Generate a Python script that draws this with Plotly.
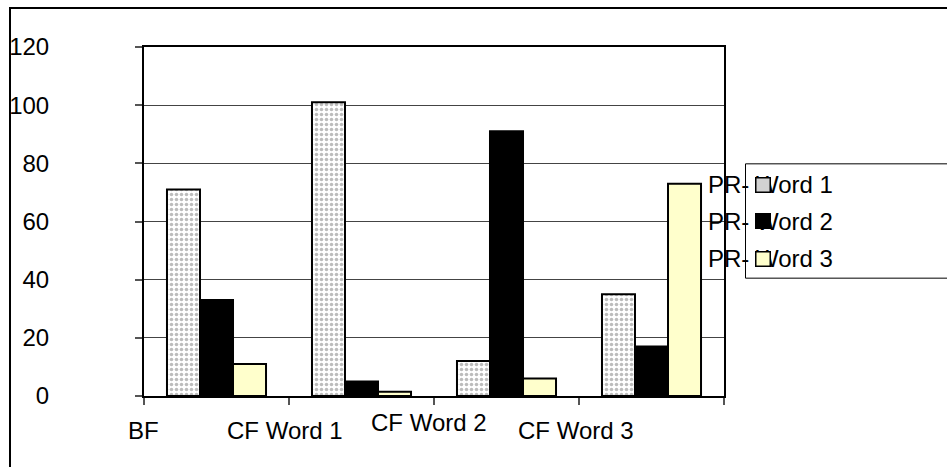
import plotly.graph_objects as go

categories = ["BF", "CF Word 1", "CF Word 2", "CF Word 3"]
series_names = ["PR- Word 1", "PR- Word 2", "PR- Word 3"]
word1 = [71, 101, 12, 35]
word2 = [33, 5, 91, 17]
word3 = [11, 1.5, 6, 73]
y_ticks = [0, 20, 40, 60, 80, 100, 120]

W, H = 947, 467
L, R, T, B = 144, 724, 47, 396.5
pw, ph = R - L, B - T


def px(x):
    return (x - L) / pw


def py(y):
    return (B - y) / ph


FONT = "Liberation Sans, Arial, sans-serif"
FS = 24

fig = go.Figure()
fig.add_trace(go.Bar(
    x=categories, y=word1, name=series_names[0],
    marker=dict(color="white", line=dict(color="black", width=2),
                pattern=dict(shape=".", fgcolor="#7a7a7a", bgcolor="white",
                             size=5, solidity=0.4)),
))
fig.add_trace(go.Bar(
    x=categories, y=word2, name=series_names[1],
    marker=dict(color="black", line=dict(color="black", width=2)),
))
fig.add_trace(go.Bar(
    x=categories, y=word3, name=series_names[2],
    marker=dict(color="#FFFFCC", line=dict(color="black", width=2)),
))

# x labels, drawn at category boundaries as in the reference
label_shift = [-1, -4, -5, -3]
label_y = [-34, -34, -26.5, -34]
annotations = []
for i, c in enumerate(categories):
    annotations.append(dict(
        x=i - 0.5, xref="x", y=0, yref="paper", text=c, showarrow=False,
        xanchor="center", yanchor="middle", xshift=label_shift[i], yshift=label_y[i],
        font=dict(family=FONT, size=FS, color="black"),
    ))

# legend (manual)
leg_centers = [185, 221.5, 259]
sym_fill = ["#d2d2d2", "black", "#FFFFCC"]
shapes = []
# outer chart frame
shapes.append(dict(type="rect", xref="paper", yref="paper",
                   x0=px(10), x1=px(990), y0=py(500), y1=py(8),
                   line=dict(color="black", width=2), fillcolor="rgba(0,0,0,0)", layer="below"))
# legend box
shapes.append(dict(type="rect", xref="paper", yref="paper",
                   x0=px(745.5), x1=px(990), y0=py(278.5), y1=py(164),
                   line=dict(color="black", width=1), fillcolor="rgba(0,0,0,0)"))
for i, name in enumerate(series_names):
    cy = leg_centers[i]
    annotations.append(dict(
        x=px(706), xref="paper", y=py(cy), yref="paper", text=name, showarrow=False,
        xanchor="left", yanchor="middle",
        font=dict(family=FONT, size=FS, color="black"),
    ))
# legend symbols on top of the entry text, as in the reference
for i, name in enumerate(series_names):
    cy = leg_centers[i]
    annotations.append(dict(
        x=px(755), xref="paper", y=py(cy), yref="paper", text=" ", showarrow=False,
        xanchor="left", yanchor="middle", width=13, height=13,
        bgcolor=sym_fill[i], bordercolor="black", borderwidth=1.5, borderpad=0,
        font=dict(family=FONT, size=10, color="black"),
    ))

fig.update_layout(
    width=W, height=H,
    margin=dict(l=L, r=W - R, t=T, b=H - B, pad=0, autoexpand=False),
    paper_bgcolor="white", plot_bgcolor="white",
    barmode="group", bargap=0.317, bargroupgap=0,
    showlegend=False,
    font=dict(family=FONT, size=FS, color="black"),
    annotations=annotations,
    shapes=shapes,
)
fig.update_xaxes(
    type="category", range=[-0.5, 3.5], autorange=False, automargin=False,
    tickson="boundaries", ticks="outside", ticklen=7,
    tickcolor="#555", tickwidth=1.5, showticklabels=False,
    showline=True, linecolor="black", linewidth=2, mirror=True, showgrid=False,
)
fig.update_yaxes(
    range=[0, 120], autorange=False, automargin=False,
    tickvals=y_ticks, ticks="outside", ticklen=7,
    tickcolor="#555", tickwidth=1.5,
    showline=True, linecolor="black", linewidth=2, mirror=True,
    showgrid=True, gridcolor="#444", gridwidth=1, zeroline=False,
    ticklabelstandoff=81,
    tickfont=dict(family=FONT, size=FS, color="black"),
)

fig.write_html(
    "out.html",
    config={"displayModeBar": False},
    post_script="document.body.style.margin='0px';document.body.style.overflow='hidden';",
)
